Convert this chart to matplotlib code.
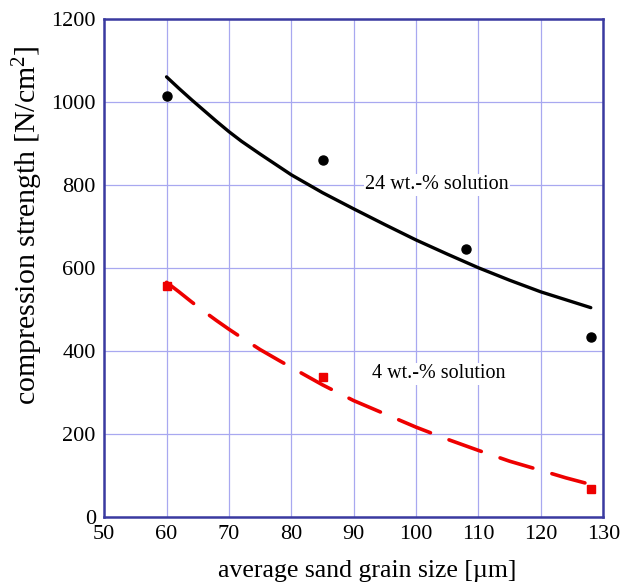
import numpy as np
import matplotlib
matplotlib.use('Agg')
import matplotlib.pyplot as plt

plt.rcParams['font.family'] = ['Liberation Serif', 'DejaVu Serif']
plt.rcParams['mathtext.fontset'] = 'custom'
plt.rcParams['mathtext.rm'] = 'Liberation Serif'
plt.rcParams['mathtext.it'] = 'Liberation Serif:italic'

# measured points
grain_size = [60, 85, 108, 128]
strength_24 = [1013, 860, 646, 434]
grain_size_4 = [60, 85, 128]
strength_4 = [555, 338, 68]

# fitted trend curves
fit_x = [60, 62, 64, 66, 68, 70, 72, 75, 78, 80, 85, 90, 95, 100, 105, 110, 115, 120, 124, 128]
fit_24 = [1060, 1032, 1005, 979, 953, 928, 905, 874, 844, 824, 781, 742, 704, 667, 633,
          600, 570, 542, 523, 504]
fit_4 = [565, 542, 518, 495, 473, 452, 432, 403, 377, 360, 318, 280, 248, 216, 187,
         160, 134, 112, 94, 78]

x_ticks = [50, 60, 70, 80, 90, 100, 110, 120, 130]
y_ticks = [0, 200, 400, 600, 800, 1000, 1200]

frame_blue = '#3a3aa0'
grid_blue = '#a8a8f0'

fig = plt.figure(figsize=(6.2, 5.86), dpi=100)
ax = fig.add_axes([0.168, 0.118, 0.805, 0.850])

ax.plot(fit_x, fit_24, color='black', linewidth=2.4, solid_capstyle='round', zorder=3)
ax.plot(fit_x, fit_4, color='#ee0000', linewidth=2.6, dashes=(9.5, 5.5),
        dash_capstyle='round', zorder=3)

ax.plot(grain_size, strength_24, 'o', color='black', markersize=6.5, zorder=4)
ax.plot(grain_size_4, strength_4, 's', color='#ee0000', markersize=6.2, zorder=4)

ax.text(91.8, 800, '24 wt.-% solution', fontsize=14.5, va='center', ha='left',
        bbox=dict(facecolor='white', edgecolor='none', pad=1), zorder=2)
ax.text(92.9, 345, '4 wt.-% solution', fontsize=14.5, va='center', ha='left',
        bbox=dict(facecolor='white', edgecolor='none', pad=1), zorder=2)

ax.set_xlim(50, 130)
ax.set_ylim(0, 1200)
ax.set_xticks(x_ticks)
ax.set_yticks(y_ticks)
ax.tick_params(axis='both', labelsize=16, length=0, pad=6)

ax.grid(True, color=grid_blue, linewidth=0.9, zorder=0)
ax.set_axisbelow(True)
for side in ax.spines.values():
    side.set_color(frame_blue)
    side.set_linewidth(1.8)

ax.set_xlabel('average sand grain size [\u00b5m]', fontsize=18.5)
ax.set_ylabel('compression strength [N/cm$^2$]', fontsize=21.5)
ax.xaxis.set_label_coords(0.527, -0.086)
ax.yaxis.set_label_coords(-0.118, 0.585)

fig.savefig('out.png', dpi=100)
